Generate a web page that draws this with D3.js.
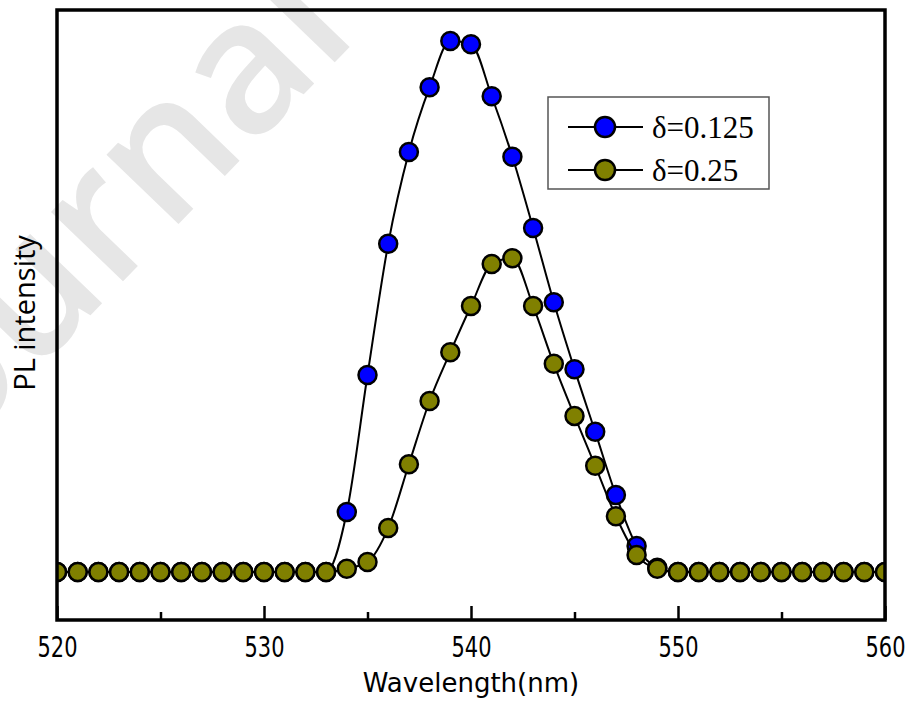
<!DOCTYPE html>
<html><head><meta charset="utf-8">
<script src="https://cdn.jsdelivr.net/npm/d3@7"></script>
<style>body{margin:0;background:#fff}svg{display:block}</style>
</head><body><svg id="c" width="911" height="704"></svg>
<script>
const wavelengths = [520,521,522,523,524,525,526,527,528,529,530,531,532,533,534,535,536,537,538,539,540,
  541,542,543,544,545,546,547,548,549,550,551,552,553,554,555,556,557,558,559,560];
const delta0125 = [0,0,0,0,0,0,0,0,0,0,0,0,0,0,
  0.113,0.371,0.618,0.791,0.913,1.000,0.994,0.896,0.782,0.648,0.508,0.382,0.264,0.145,0.049,0.008,
  0,0,0,0,0,0,0,0,0,0,0];
const delta025 = [0,0,0,0,0,0,0,0,0,0,0,0,0,0,
  0.006,0.019,0.083,0.203,0.322,0.414,0.501,0.580,0.591,0.501,0.392,0.294,0.200,0.105,0.032,0.006,
  0,0,0,0,0,0,0,0,0,0,0];
const seriesNames = ["δ=0.125","δ=0.25"];
const seriesColors = ["#0000ff","#808000"];
const majorTicks = [520,530,540,550,560];
const minorTicks = [525,535,545,555];

const svg = d3.select("#c");
const L = 57, R = 885, T = 10, B = 620;
const x = d3.scaleLinear().domain([520,560]).range([L,R]);
const y = d3.scaleLinear().domain([-0.0904,1.0584]).range([B,T]);

// watermark
svg.append("text").attr("x",0).attr("y",0)
  .attr("transform","translate(-86,498) rotate(-46)")
  .attr("font-family","'Open Sans','Noto Sans',sans-serif")
  .attr("font-size",185).attr("font-weight",600).attr("fill","#e6e6e6")
  .text("Journal Pre-proof");

svg.append("clipPath").attr("id","clip").append("rect")
  .attr("x",L).attr("y",T).attr("width",R-L).attr("height",B-T);

const g = svg.append("g").attr("clip-path","url(#clip)");
const series = [delta0125, delta025];
const line = d3.line().x(d=>x(d[0])).y(d=>y(d[1])).curve(d3.curveMonotoneX);
series.forEach((vals,i)=>{
  const pts = wavelengths.map((w,j)=>[w,vals[j]]);
  const sg = g.append("g");
  sg.append("path").datum(pts).attr("d",line).attr("fill","none")
    .attr("stroke","#000").attr("stroke-width",2);
  sg.selectAll("circle").data(pts).join("circle")
    .attr("cx",d=>x(d[0])).attr("cy",d=>y(d[1])).attr("r",9)
    .attr("fill",seriesColors[i]).attr("stroke","#000").attr("stroke-width",2.5);
});

// frame
svg.append("rect").attr("x",L).attr("y",T).attr("width",R-L).attr("height",B-T)
  .attr("fill","none").attr("stroke","#000").attr("stroke-width",3.5);

// x axis
const ax = d3.axisBottom(x).tickValues(majorTicks).tickSize(-14).tickPadding(30).tickFormat(d3.format("d"));
const axg = svg.append("g").attr("transform",`translate(0,${B})`).call(ax);
axg.select(".domain").remove();
axg.selectAll(".tick line").attr("stroke","#000").attr("stroke-width",2.5);
axg.selectAll(".tick text").attr("font-family","'Liberation Sans Narrow','DejaVu Sans',sans-serif")
  .attr("font-size",29).attr("fill","#000").attr("dy",0).attr("y",37)
  .attr("textLength",40).attr("lengthAdjust","spacingAndGlyphs");
const axm = d3.axisBottom(x).tickValues(minorTicks).tickSize(-8).tickFormat("");
const amg = svg.append("g").attr("transform",`translate(0,${B})`).call(axm);
amg.select(".domain").remove();
amg.selectAll(".tick line").attr("stroke","#000").attr("stroke-width",2.5);

svg.append("text").attr("x",(L+R)/2).attr("y",692).attr("text-anchor","middle")
  .attr("font-family","'DejaVu Sans',sans-serif").attr("font-size",26).text("Wavelength(nm)");
svg.append("text").attr("transform","translate(35,313) rotate(-90)").attr("text-anchor","middle")
  .attr("font-family","'Open Sans','Noto Sans',sans-serif").attr("font-size",29).text("PL intensity");

// legend
const lg = svg.append("g");
lg.append("rect").attr("x",548).attr("y",97).attr("width",221).attr("height",92)
  .attr("fill","#fff").attr("stroke","#555").attr("stroke-width",1.5);
seriesNames.forEach((n,i)=>{
  const cy = 127 + i*43;
  lg.append("line").attr("x1",568).attr("x2",643).attr("y1",cy).attr("y2",cy)
    .attr("stroke","#000").attr("stroke-width",2);
  lg.append("circle").attr("cx",605).attr("cy",cy).attr("r",10)
    .attr("fill",seriesColors[i]).attr("stroke","#000").attr("stroke-width",2.5);
  lg.append("text").attr("x",652).attr("y",cy+11)
    .attr("font-family","'Liberation Serif','Times New Roman',serif").attr("font-size",31).text(n);
});
</script></body></html>
